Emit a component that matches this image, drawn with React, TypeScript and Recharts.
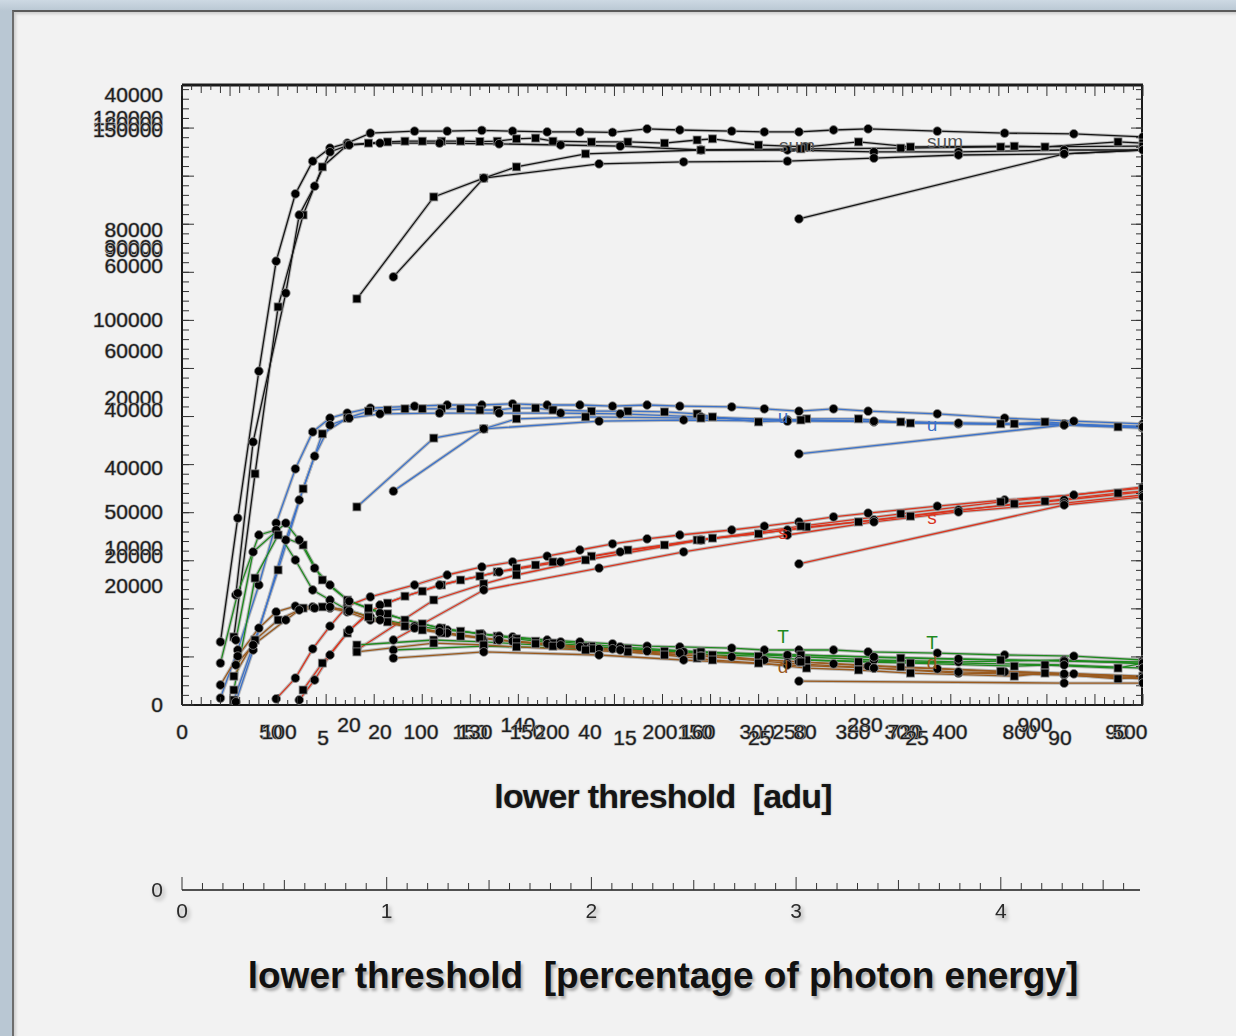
import React from "react";
import { LineChart, Line, XAxis, YAxis, ReferenceDot } from "recharts";

// lower threshold [adu] sampled by each of the six scans
const runA = [20, 29, 40, 49, 59, 68, 77, 86, 98, 121, 138, 156, 172, 190, 207, 224, 242, 259, 286, 303, 321, 339, 357, 393, 428, 464, 500];
const runB = [27, 38, 50, 63, 73, 86, 97, 107, 116, 125, 135, 145, 155, 164, 174, 184, 193, 213, 232, 251, 268, 276, 300, 325, 352, 379, 433, 449, 487, 500];
const runC = [28, 37, 54, 61, 69, 77, 87, 103, 134, 165, 197, 228, 270, 315, 360, 404, 459, 500];
const runD = [91, 131, 157, 174, 210, 270, 322, 374, 426, 500];
const runE = [110, 157, 217, 261, 315, 360, 404, 459, 500];
const runF = [321, 459, 500];

// counts (thousands) per scan: sum
const sumA = [16.4, 48.6, 86.8, 115.4, 132.9, 141.4, 144.8, 146.1, 148.7, 149.2, 149.2, 149.4, 149.2, 149.0, 149.0, 148.9, 149.8, 149.5, 149.2, 149.0, 149.0, 149.5, 149.8, 149.2, 148.7, 148.5, 147.7];
const sumB = [17.7, 60.1, 103.5, 127.4, 139.9, 145.6, 146.1, 146.4, 146.6, 146.6, 146.6, 146.6, 146.5, 146.6, 147.2, 147.4, 146.6, 146.4, 146.4, 146.1, 146.9, 147.2, 145.6, 145.1, 146.4, 145.1, 145.3, 145.1, 146.4, 146.1];
const sumC = [28.6, 68.4, 107.1, 127.4, 134.9, 143.8, 145.6, 146.1, 146.1, 145.9, 145.6, 145.3, 144.3, 144.3, 143.8, 143.8, 144.3, 144.3];
const sumD = [105.6, 132.1, 137.0, 139.9, 143.3, 144.3, 144.6, 144.8, 145.1, 145.3];
const sumE = [111.3, 137.0, 140.7, 141.2, 141.4, 142.2, 143.0, 143.3, 144.3];
const sumF = [126.4, 143.3, 144.3];

// u (blue)
const uA = [1.8, 14.3, 31.2, 47.3, 61.4, 71.0, 74.6, 75.9, 77.2, 77.7, 78.0, 78.0, 78.3, 78.0, 78.0, 77.7, 78.0, 77.7, 77.5, 77.0, 76.4, 77.0, 76.4, 75.7, 74.6, 73.8, 73.1];
const uB = [1.3, 16.9, 35.1, 56.2, 70.5, 74.6, 76.4, 76.7, 77.0, 77.0, 77.0, 77.0, 76.7, 76.7, 77.2, 77.2, 76.7, 76.4, 76.4, 76.2, 75.7, 74.9, 73.6, 74.4, 74.4, 73.3, 73.1, 73.6, 72.3, 72.3];
const uC = [0.8, 14.3, 42.9, 53.3, 64.7, 72.8, 74.6, 75.7, 75.9, 75.9, 75.9, 75.7, 74.9, 74.1, 73.6, 73.1, 72.8, 72.0];
const uD = [51.5, 69.4, 71.8, 74.4, 74.9, 74.6, 74.1, 73.6, 73.1, 72.5];
const uE = [55.6, 71.8, 73.8, 74.1, 73.8, 73.8, 73.3, 73.1, 72.3];
const uF = [65.3, 72.8, 72.3];

// s (red)
const sA = [null, null, null, 1.6, 7.0, 14.6, 20.5, 25.7, 28.1, 31.2, 33.8, 35.9, 37.2, 38.7, 40.3, 41.9, 43.2, 44.2, 45.5, 46.5, 47.6, 48.9, 49.9, 51.7, 53.3, 54.6, 56.7];
const sB = [null, null, null, 3.9, 10.9, 18.7, 24.2, 26.5, 28.3, 29.6, 31.2, 32.5, 33.5, 34.6, 35.6, 36.4, 37.2, 38.7, 40.3, 41.6, 42.9, 43.4, 44.5, 46.3, 47.6, 49.1, 52.3, 53.0, 55.1, 55.6];
const sC = [null, null, null, 1.3, 6.5, 13.0, 19.5, 26.0, 31.2, 34.6, 37.2, 39.8, 42.9, 45.5, 48.1, 50.7, 53.3, 55.4];
const sD = [14.3, 27.3, 31.5, 33.8, 37.7, 42.9, 46.5, 49.7, 52.8, 56.4];
const sE = [16.9, 29.9, 35.6, 39.8, 44.2, 47.6, 50.2, 52.5, 54.6];
const sF = [36.7, 52.0, 54.1];

// T (green)
const tA = [10.9, 29.1, 44.2, 45.5, 37.7, 29.9, 27.3, 24.7, 22.9, 20.5, 19.5, 18.5, 17.7, 16.9, 16.4, 15.9, 15.3, 15.1, 14.8, 14.3, 14.3, 14.3, 13.8, 13.5, 13.0, 12.7, 11.7];
const tB = [3.9, 33.0, 44.2, 41.6, 32.5, 27.3, 25.2, 23.7, 22.1, 21.1, 20.0, 19.2, 18.5, 17.9, 17.2, 16.6, 16.1, 15.3, 14.6, 14.0, 13.5, 13.0, 12.7, 11.7, 11.2, 10.9, 10.1, 10.4, 9.6, 10.9];
const tC = [16.9, 39.8, 47.3, 42.9, 35.6, 31.2, 27.0, 23.9, 20.0, 17.9, 16.4, 15.1, 13.8, 12.7, 11.7, 11.2, 11.7, 10.7];
const tD = [15.6, 16.9, 16.4, 15.9, 15.1, 13.8, 13.0, 12.2, 11.7, 11.2];
const tE = [14.3, 15.3, 14.6, 13.8, 13.0, 12.5, 12.0, 11.4, 10.9];
const tF = [11.7, 10.4, 9.6];

// d (brown)
const dA = [5.2, 12.7, 20.0, 24.2, 25.7, 25.5, 25.2, 24.2, 22.1, 20.0, 18.7, 17.4, 16.6, 15.9, 15.1, 14.6, 14.0, 13.5, 12.5, 11.7, 11.2, 10.7, 10.1, 9.4, 8.6, 8.1, 7.3];
const dB = [7.5, 16.9, 22.1, 25.2, 25.5, 24.7, 22.9, 21.6, 20.5, 19.5, 18.7, 17.9, 17.4, 16.9, 16.4, 15.9, 15.3, 14.6, 13.8, 13.0, 12.2, 11.7, 10.9, 9.6, 9.1, 8.3, 7.5, 8.3, 6.8, 7.3];
const dC = [10.4, 15.6, 22.1, 24.7, 25.2, 25.5, 24.4, 22.1, 19.0, 16.9, 15.6, 14.3, 12.7, 10.9, 9.6, 8.3, 7.8, 6.8];
const dD = [13.8, 16.1, 15.6, 15.1, 14.3, 12.7, 11.2, 9.9, 8.8, 7.5];
const dE = [12.2, 13.8, 13.0, 11.7, 10.4, 9.6, 8.6, 8.1, 7.0];
const dF = [6.2, 5.7, 5.7];

// overlaid axis labels of the stacked plots
const yLabels = [
  { at: 158.6, text: "40000" },
  { at: 152.6, text: "120000" },
  { at: 151.1, text: "180000" },
  { at: 149.5, text: "150000" },
  { at: 123.5, text: "80000" },
  { at: 119.1, text: "30000" },
  { at: 118.4, text: "90000" },
  { at: 114.1, text: "60000" },
  { at: 100.1, text: "100000" },
  { at: 92.0, text: "60000" },
  { at: 79.8, text: "20000" },
  { at: 76.7, text: "40000" },
  { at: 61.6, text: "40000" },
  { at: 50.2, text: "50000" },
  { at: 40.8, text: "10000" },
  { at: 38.7, text: "20000" },
  { at: 30.9, text: "20000" },
  { at: 0, text: "0" },
];
const xLabels = [
  { at: 0, text: "0" },
  { at: 46.3, text: "50" },
  { at: 50.5, text: "100" },
  { at: 103, text: "20" },
  { at: 124.3, text: "100" },
  { at: 149.8, text: "150" },
  { at: 152.4, text: "130" },
  { at: 179.5, text: "150" },
  { at: 192.5, text: "200" },
  { at: 212.3, text: "40" },
  { at: 248.7, text: "200" },
  { at: 266.9, text: "150" },
  { at: 268.4, text: "160" },
  { at: 299.2, text: "300" },
  { at: 316.3, text: "250" },
  { at: 324.1, text: "80" },
  { at: 349.1, text: "380" },
  { at: 374.6, text: "300" },
  { at: 376.2, text: "720" },
  { at: 399.6, text: "400" },
  { at: 436, text: "800" },
  { at: 486.5, text: "90" },
  { at: 493.2, text: "500" },
];
const xLabelsLow = [
  { at: 73.4, text: "5" },
  { at: 230.5, text: "15" },
  { at: 300.5, text: "25" },
  { at: 382.4, text: "25" },
  { at: 456.8, text: "90" },
];
const xLabelsHigh = [
  { at: 86.9, text: "20" },
  { at: 174.8, text: "140" },
  { at: 355.4, text: "280" },
  { at: 443.8, text: "900" },
];
const pctLabels = [0, 1, 2, 3, 4];

const annotations = [
  { x: 320, y: 145.3, text: "sum", color: "#555" },
  { x: 397, y: 146.4, text: "sum", color: "#555" },
  { x: 312.7, y: 74.9, text: "u", color: "#3d72c8" },
  { x: 390.2, y: 72.8, text: "u", color: "#3d72c8" },
  { x: 312.7, y: 44.7, text: "s", color: "#d9351f" },
  { x: 390.2, y: 48.6, text: "s", color: "#d9351f" },
  { x: 312.7, y: 17.7, text: "T", color: "#1f8a1f" },
  { x: 390.2, y: 16.1, text: "T", color: "#1f8a1f" },
  { x: 312.7, y: 9.9, text: "d", color: "#9a5a1e" },
  { x: 390.2, y: 10.9, text: "d", color: "#9a5a1e" },
];

const runs = [
  { key: "A", x: runA, shape: "circle" },
  { key: "B", x: runB, shape: "square" },
  { key: "C", x: runC, shape: "circle" },
  { key: "D", x: runD, shape: "square" },
  { key: "E", x: runE, shape: "circle" },
  { key: "F", x: runF, shape: "circle" },
];
const groups = [
  { key: "sum", color: "#151515", ys: [sumA, sumB, sumC, sumD, sumE, sumF] },
  { key: "u", color: "#3d72c8", ys: [uA, uB, uC, uD, uE, uF] },
  { key: "s", color: "#d9351f", ys: [sA, sB, sC, sD, sE, sF] },
  { key: "T", color: "#1f8a1f", ys: [tA, tB, tC, tD, tE, tF] },
  { key: "d", color: "#9a5a1e", ys: [dA, dB, dC, dD, dE, dF] },
];

const series = groups.flatMap((g) =>
  runs.map((r, i) => ({
    id: `${g.key}-${r.key}`,
    color: g.color,
    shape: r.shape,
    data: r.x.map((x, j) => ({ x, y: (g.ys[i] as (number | null)[])[j] })),
  }))
);

const X_MAX = 500;
const Y_MAX = 161.2;
const PCT_MAX = 4.68;
const yMinor = Array.from({ length: 65 }, (_, i) => i * 2.5);
const yMajor = Array.from({ length: 13 }, (_, i) => i * 12.5);
const xMinor = Array.from({ length: 101 }, (_, i) => i * 5);
const pctMinor = Array.from({ length: 47 }, (_, i) => Math.round(i * 10) / 100);
const pctBase = [{ p: 0, v: 0 }, { p: PCT_MAX, v: 0 }];

const allXLabels = [
  ...xLabels.map((l) => ({ ...l, dy: 0 })),
  ...xLabelsLow.map((l) => ({ ...l, dy: 6 })),
  ...xLabelsHigh.map((l) => ({ ...l, dy: -7 })),
];
const bottomTicks = Array.from(new Set([...xMinor, ...allXLabels.map((l) => l.at)])).sort((a, b) => a - b);

const labelFont = "'Liberation Sans', Arial, sans-serif";
const outlined = {
  fontFamily: labelFont,
  fontSize: 21,
  fill: "#1e1e1e",
  stroke: "#a8a8a8",
  strokeWidth: 1.2,
  paintOrder: "stroke" as const,
};

const makeDot = (shape: string) => (p: any) => {
  const { cx, cy, index, value } = p;
  if (value == null || cx == null || cy == null || isNaN(cy)) return <g key={`e${index}`} />;
  if (shape === "square") {
    return <rect key={`d${index}`} x={cx - 4} y={cy - 4} width={8} height={8} fill="#000" stroke="#8a8a8a" strokeWidth={0.8} />;
  }
  return <circle key={`d${index}`} cx={cx} cy={cy} r={4.4} fill="#000" stroke="#8a8a8a" strokeWidth={0.8} />;
};

const tickLen = (v: number) => (v % 25 === 0 ? 11 : v % 10 === 0 ? 8 : 5);

// bottom axis: inward tick marks plus the overlaid labels
const BottomTick = (p: any) => {
  const v = p.payload.value;
  const item = allXLabels.find((l) => l.at === v);
  const isMinor = xMinor.includes(v);
  return (
    <g>
      {isMinor && <line x1={p.x} x2={p.x} y1={p.y} y2={p.y - tickLen(v)} stroke="#333" strokeWidth={1} />}
      {item && (
        <text x={p.x} y={p.y + 34 + item.dy} textAnchor="middle" {...outlined}>
          {item.text}
        </text>
      )}
    </g>
  );
};

const TopTick = (p: any) => {
  const v = p.payload.value;
  return <line x1={p.x} x2={p.x} y1={p.y} y2={p.y + tickLen(v)} stroke="#333" strokeWidth={1} />;
};

const YLabelTick = (p: any) => {
  const item = yLabels.find((l) => l.at === p.payload.value);
  if (!item) return <g />;
  return (
    <text x={p.x} y={p.y} dy={7} textAnchor="end" {...outlined}>
      {item.text}
    </text>
  );
};

const NoLabel = () => <g />;

const shadowText = {
  fontFamily: labelFont,
  fontSize: 21,
  fill: "#2a2a2a",
  style: { filter: "drop-shadow(2px 3px 2px rgba(0,0,0,0.35))" },
};

const PctTick = (p: any) => {
  const v = p.payload.value;
  const whole = Number.isInteger(v);
  const half = Math.abs(v * 2 - Math.round(v * 2)) < 1e-9;
  const len = whole ? 13 : half ? 10 : 7;
  return (
    <g>
      <line x1={p.x} x2={p.x} y1={p.y} y2={p.y - len} stroke="#333" strokeWidth={1} />
      {whole && pctLabels.includes(v) && (
        <text x={p.x} y={p.y + 28} textAnchor="middle" {...shadowText}>
          {v}
        </text>
      )}
    </g>
  );
};

const ZeroTick = (p: any) => (
  <text x={p.x} y={p.y} dy={7} textAnchor="end" {...shadowText}>
    0
  </text>
);

const tickStroke = { stroke: "#333" };

export default function App() {
  return (
    <div
      style={{
        position: "absolute",
        left: 0,
        top: 0,
        width: 1236,
        height: 1036,
        overflow: "hidden",
        background: "linear-gradient(180deg, #cdd9e3 0px, #b9c7d3 11px)",
      }}
    >
      <div
        style={{
          position: "absolute",
          left: 12,
          top: 10,
          width: 1230,
          height: 1030,
          background: "#f2f2f2",
          borderTop: "2px solid #5a5a5a",
          borderLeft: "2px solid #6d6d6d",
          boxShadow: "inset 2px 2px 3px rgba(0,0,0,0.15)",
        }}
      />

      <div style={{ position: "absolute", left: 0, top: 0 }}>
        <LineChart width={1236} height={820} margin={{ top: 75, right: 93, bottom: 75, left: 92 }}>
          <XAxis
            xAxisId="x"
            dataKey="x"
            type="number"
            domain={[0, X_MAX]}
            allowDataOverflow
            ticks={bottomTicks}
            interval={0}
            tick={BottomTick}
            tickLine={false}
            tickSize={0}
            tickMargin={0}
            axisLine={{ stroke: "#1a1a1a", strokeWidth: 2 }}
            height={40}
          />
          <XAxis
            xAxisId="top"
            orientation="top"
            dataKey="x"
            type="number"
            domain={[0, X_MAX]}
            allowDataOverflow
            ticks={xMinor}
            interval={0}
            tick={TopTick}
            tickLine={false}
            tickSize={0}
            tickMargin={0}
            axisLine={{ stroke: "#1a1a1a", strokeWidth: 3 }}
            height={10}
          />

          <YAxis
            yAxisId="y"
            type="number"
            domain={[0, Y_MAX]}
            allowDataOverflow
            ticks={yLabels.map((l) => l.at)}
            interval={0}
            tick={YLabelTick}
            tickLine={false}
            tickSize={0}
            tickMargin={19}
            axisLine={{ stroke: "#1a1a1a", strokeWidth: 2 }}
            width={90}
          />
          <YAxis yAxisId="yMinor" type="number" domain={[0, Y_MAX]} allowDataOverflow ticks={yMinor} interval={0} mirror width={1} tick={NoLabel} tickSize={6} tickLine={tickStroke} axisLine={false} />
          <YAxis yAxisId="yMajor" type="number" domain={[0, Y_MAX]} allowDataOverflow ticks={yMajor} interval={0} mirror width={1} tick={NoLabel} tickSize={12} tickLine={tickStroke} axisLine={false} />
          <YAxis yAxisId="rMinor" orientation="right" type="number" domain={[0, Y_MAX]} allowDataOverflow ticks={yMinor} interval={0} mirror width={1} tick={NoLabel} tickSize={6} tickLine={tickStroke} axisLine={{ stroke: "#1a1a1a", strokeWidth: 2 }} />
          <YAxis yAxisId="rMajor" orientation="right" type="number" domain={[0, Y_MAX]} allowDataOverflow ticks={yMajor} interval={0} mirror width={1} tick={NoLabel} tickSize={12} tickLine={tickStroke} axisLine={false} />

          {/* keeps the top frame axis bound to the same scale */}
          <Line xAxisId="top" yAxisId="y" data={series[0].data} dataKey="y" stroke="none" dot={false} activeDot={false} isAnimationActive={false} />

          {series.map((s) => (
            <Line
              key={`halo-${s.id}`}
              xAxisId="x"
              yAxisId="y"
              data={s.data}
              dataKey="y"
              stroke="#bcbcbc"
              strokeWidth={3.4}
              dot={false}
              activeDot={false}
              isAnimationActive={false}
            />
          ))}
          {series.map((s) => (
            <Line
              key={s.id}
              xAxisId="x"
              yAxisId="y"
              data={s.data}
              dataKey="y"
              stroke={s.color}
              strokeWidth={1.3}
              dot={makeDot(s.shape)}
              activeDot={false}
              isAnimationActive={false}
            />
          ))}

          {annotations.map((a, i) => (
            <ReferenceDot
              key={`ann-${i}`}
              xAxisId="x"
              yAxisId="y"
              x={a.x}
              y={a.y}
              r={0}
              ifOverflow="visible"
              shape={(p: any) => (
                <text x={p.cx} y={p.cy} dy={6} textAnchor="middle" fontFamily={labelFont} fontSize={19} fill={a.color}>
                  {a.text}
                </text>
              )}
            />
          ))}
        </LineChart>
      </div>

      <div
        style={{
          position: "absolute",
          left: 0,
          width: 1326,
          top: 779,
          textAlign: "center",
          fontFamily: labelFont,
          fontWeight: "bold",
          fontSize: 34,
          lineHeight: "34px",
          letterSpacing: -0.8,
          whiteSpace: "pre",
          color: "#151515",
          textShadow: "0 0 2px #999",
        }}
      >
        lower threshold  [adu]
      </div>

      <div style={{ position: "absolute", left: 0, top: 850 }}>
        <LineChart width={1236} height={100} margin={{ top: 39, right: 96, bottom: 10, left: 92 }}>
          <XAxis
            xAxisId="p"
            dataKey="p"
            type="number"
            domain={[0, PCT_MAX]}
            allowDataOverflow
            ticks={pctMinor}
            interval={0}
            tick={PctTick}
            tickLine={false}
            tickSize={0}
            tickMargin={0}
            axisLine={{ stroke: "#1a1a1a", strokeWidth: 1.6 }}
            height={50}
          />
          <YAxis yAxisId="p0" type="number" domain={[0, 1]} allowDataOverflow ticks={[0]} interval={0} tick={ZeroTick} tickLine={false} tickSize={0} tickMargin={19} axisLine={false} width={90} />
          <Line xAxisId="p" yAxisId="p0" data={pctBase} dataKey="v" stroke="none" dot={false} activeDot={false} isAnimationActive={false} />
        </LineChart>
      </div>

      <div
        style={{
          position: "absolute",
          left: 0,
          width: 1326,
          top: 957,
          textAlign: "center",
          fontFamily: labelFont,
          fontWeight: "bold",
          fontSize: 37,
          lineHeight: "37px",
          whiteSpace: "pre",
          color: "#111",
          textShadow: "2px 3px 3px rgba(0,0,0,0.3)",
        }}
      >
        lower threshold  [percentage of photon energy]
      </div>
    </div>
  );
}
